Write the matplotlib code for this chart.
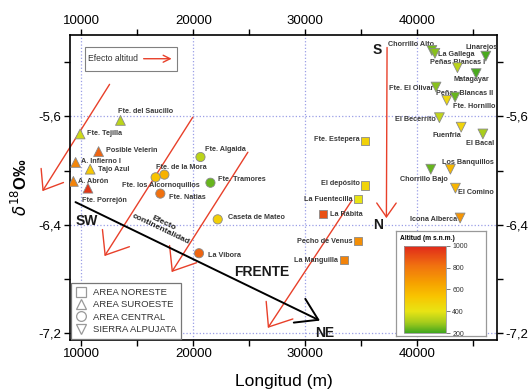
import numpy as np
import matplotlib
matplotlib.use("Agg")
import matplotlib.pyplot as plt
from matplotlib.colors import LinearSegmentedColormap, Normalize
from matplotlib.lines import Line2D
from matplotlib.patches import Rectangle
from matplotlib.ticker import MultipleLocator, FuncFormatter

plt.rcParams['font.family'] = ['Liberation Sans', 'DejaVu Sans']

# ---- datos ----
ne_names = ['Fte. Estepera', 'El depósito', 'La Fuentecilla', 'La Rábita', 'Pecho de Venus', 'La Manguilla']
ne_x = [35320, 35290, 34660, 31540, 34690, 33440]
ne_y = [-5.78, -6.11, -6.21, -6.32, -6.52, -6.66]
ne_alt = [480, 470, 400, 900, 720, 760]

sw_names = ['Fte. del Saucillo', 'Fte. Tejilla', 'Posible Velerin', 'A. Infierno I', 'Tajo Azul', 'A. Abrón', 'Fte. Porrejón']
sw_x = [13500, 9900, 11550, 9500, 10800, 9300, 10600]
sw_y = [-5.63, -5.73, -5.86, -5.94, -5.99, -6.08, -6.13]
sw_alt = [330, 360, 850, 750, 520, 760, 960]

ce_names = ['Fte. Algaida', 'Fte. de la Mora', 'Fte. los Alcornoquillos', 'Fte. Tramores', 'Fte. Natias', 'Caseta de Mateo', 'La Vibora']
ce_x = [20640, 17420, 16640, 21530, 17060, 22180, 20510]
ce_y = [-5.90, -6.03, -6.05, -6.09, -6.17, -6.36, -6.61]
ce_alt = [330, 600, 540, 240, 820, 490, 850]

sa_names = ['Chorrillo Alto', 'La Gallega', 'Linarejos', 'Peñas Blancas I', 'Matagayar', 'Fte. El Olivar',
            'Peñas Blancas II', 'Fte. Hornillo', 'El Becerrito', 'Fuenfria', 'El Bacal', 'Los Banquillos',
            'Chorrillo Bajo', 'El Comino', 'Icona Alberca']
sa_x = [41290, 41560, 46100, 43570, 45240, 41660, 43360, 42620, 41960, 43900, 45840, 42940, 41190, 43390, 43810]
sa_y = [-5.114, -5.135, -5.156, -5.241, -5.285, -5.384, -5.458, -5.482, -5.61, -5.68, -5.73, -5.99, -5.99, -6.13, -6.35]
sa_alt = [250, 270, 210, 330, 210, 270, 240, 450, 340, 470, 300, 580, 240, 590, 700]

# desplazamientos de etiquetas (px) y alineación
ne_off = [(-5, 1, 'right'), (-5, 2, 'right'), (-5, 0, 'right'), (7, -1, 'left'), (-5, 0, 'right'), (-6, 0, 'right')]
sw_off = [(-2, 9, 'left'), (7, 0, 'left'), (7, 1, 'left'), (5, 1, 'left'), (8, 0, 'left'), (5, 0, 'left'), (-6, -12, 'left')]
ce_off = [(5, 7, 'left'), (-8, 7, 'left'), (5, -8, 'center'), (8, 3, 'left'), (9, -4, 'left'), (10, 2, 'left'), (9, -2, 'left')]
sa_off = [(2, 6, 'right'), (3, -1, 'left'), (-4, 9, 'center'), (0, 5, 'center'), (-5, -6, 'center'), (-3, -1, 'right'),
          (9, 4, 'center'), (6, -6, 'left'), (-4, -2, 'right'), (0, -8, 'right'), (-3, -10, 'center'),
          (-8, 7, 'left'), (-7, -10, 'center'), (3, -4, 'left'), (-3, -2, 'right')]

cmap = LinearSegmentedColormap.from_list('alt', [
    (0.0, '#3fa61e'), (0.12, '#a6cc1c'), (0.25, '#e8e414'), (0.42, '#f8c400'),
    (0.58, '#f6a000'), (0.78, '#f07010'), (1.0, '#e0281a')])
norm = Normalize(200, 1000)

fig = plt.figure(figsize=(5.28, 3.92), dpi=100)
ax = fig.add_axes([0.1326, 0.1327, 0.8087, 0.778])

groups = [
    (ne_names, ne_x, ne_y, ne_alt, ne_off, 's', 34),
    (sw_names, sw_x, sw_y, sw_alt, sw_off, '^', 50),
    (ce_names, ce_x, ce_y, ce_alt, ce_off, 'o', 44),
    (sa_names, sa_x, sa_y, sa_alt, sa_off, 'v', 50),
]
for names, xs, ys, alts, offs, mk, sz in groups:
    ax.scatter(xs, ys, c=alts, cmap=cmap, norm=norm, marker=mk, s=sz,
               edgecolors='#8a8a8a', linewidths=0.6, zorder=4)
    for n, x, y, (dx, dy, ha) in zip(names, xs, ys, offs):
        ax.annotate(n, (x, y), xytext=(dx, dy), textcoords='offset pixels',
                    ha=ha, va='center', fontsize=5.2, fontweight='bold',
                    color='#3a3a3a', zorder=3)

# flechas efecto altitud
red = '#e8402a'
red_arrows = [((12530, -5.364), (6540, -6.152), 1.25, 0.95),
              ((19950, -5.607), (12080, -6.631), 1.45, 1.15),
              ((24870, -5.865), (18070, -6.749), 1.45, 1.15),
              ((34160, -6.219), (26650, -7.161), 1.45, 1.15),
              ((37290, -5.092), (37230, -6.351), 1.0, 0.7)]
for start, tip, hl, hw in red_arrows:
    ax.annotate('', xy=tip, xytext=start, annotation_clip=False,
                arrowprops=dict(arrowstyle=f'->,head_length={hl},head_width={hw}',
                                color=red, lw=1.0, shrinkA=0, shrinkB=0,
                                mutation_scale=10), zorder=2)

# flecha efecto continentalidad
ax.annotate('', xy=(31300, -7.107), xytext=(9490, -6.233),
            arrowprops=dict(arrowstyle='->,head_length=1.5,head_width=0.95',
                            color='black', lw=1.4, shrinkA=0, shrinkB=0,
                            mutation_scale=10), zorder=2)
ax.text(17270, -6.41, 'Efecto\ncontinentalidad', rotation=-25.5, rotation_mode='anchor',
        ha='center', va='center', multialignment='center', fontsize=6,
        fontweight='bold', color='#222222', linespacing=1.0)

for txt, x, y in [('SW', 10480, -6.373), ('FRENTE', 26130, -6.749), ('NE', 31750, -7.196),
                  ('S', 36370, -5.107), ('N', 36510, -6.403)]:
    ax.text(x, y, txt, ha='center', va='center', fontsize=10, fontweight='bold', color='#1a1a1a')

# recuadro "Efecto altitud"
ax.add_patch(Rectangle((10300, -5.269), 8220, 0.184, facecolor='white',
                       edgecolor='#808080', lw=0.8, zorder=3))
ax.text(10570, -5.177, 'Efecto altitud', fontsize=6.2, va='center', ha='left',
        color='#333333', zorder=4)
ax.annotate('', xy=(18070, -5.175), xytext=(15570, -5.175),
            arrowprops=dict(arrowstyle='->,head_length=0.5,head_width=0.25',
                            color=red, lw=1.0, shrinkA=0, shrinkB=0, mutation_scale=10),
            zorder=4)

# ejes
ax.set_xlim(9000, 47100)
ax.set_ylim(-7.25, -5.0)
ax.xaxis.set_major_locator(MultipleLocator(10000))
ax.xaxis.set_minor_locator(MultipleLocator(5000))
ax.yaxis.set_major_locator(MultipleLocator(0.8))
ax.yaxis.set_minor_locator(MultipleLocator(0.4))
ax.yaxis.set_major_formatter(FuncFormatter(lambda v, p: f'{v:.1f}'.replace('.', ',')))
ax.tick_params(which='both', direction='out', length=4, width=1.0, top=True, right=True,
               labeltop=True, labelright=True, labelsize=9.5, pad=2)
ax.grid(True, which='major', linestyle=':', color='#9a9ee6', lw=0.9)
for s in ax.spines.values():
    s.set_linewidth(1.2)
ax.set_xlabel('Longitud (m)', fontsize=12.5, labelpad=10)
ax.set_ylabel(r'$\delta^{18}$O‰', fontsize=12, fontweight='bold', labelpad=6)

handles = [Line2D([], [], ls='none', marker=m, mfc='none', mec='#999999', ms=7, mew=0.9)
           for m in ['s', '^', 'o', 'v']]
leg = ax.legend(handles, ['AREA NORESTE', 'AREA SUROESTE', 'AREA CENTRAL', 'SIERRA ALPUJATA'],
                loc='lower left', bbox_to_anchor=(0.002, 0.004), fontsize=6.8, labelcolor='#333333',
                frameon=True, fancybox=False, framealpha=1, edgecolor='#777777',
                handlelength=1.2, handletextpad=0.6, labelspacing=0.35, borderpad=0.5, borderaxespad=0)
leg.get_frame().set_linewidth(0.9)
leg.set_zorder(5)

# barra de color
box = fig.add_axes([0.75, 0.143, 0.1705, 0.268])
box.set_xticks([])
box.set_yticks([])
for s in box.spines.values():
    s.set_color('#999999')
    s.set_linewidth(0.9)
box.text(0.04, 0.93, 'Altitud (m s.n.m.)', transform=box.transAxes, fontsize=4.8,
         fontweight='bold', va='center', ha='left')
cax = fig.add_axes([0.7652, 0.1505, 0.0795, 0.222])
sm = plt.cm.ScalarMappable(norm=norm, cmap=cmap)
cb = fig.colorbar(sm, cax=cax, ticks=[200, 400, 600, 800, 1000])
cb.outline.set_edgecolor('#999999')
cb.outline.set_linewidth(0.6)
cax.tick_params(labelsize=5, length=3, width=0.6, color='#666666', pad=1.5, labelcolor='#333333')

fig.savefig('out.png', dpi=100)
